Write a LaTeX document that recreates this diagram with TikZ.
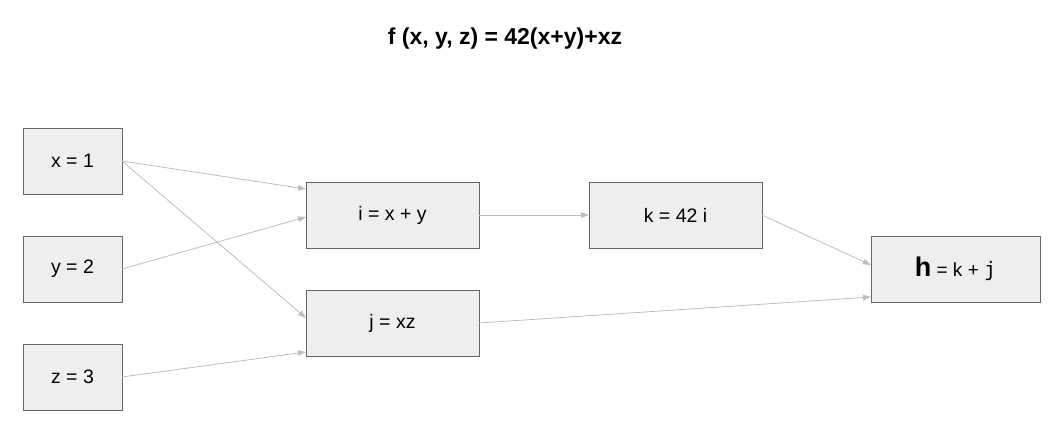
\documentclass[tikz,border=0pt]{standalone}
\usepackage{fontspec}
\setmainfont{Liberation Sans}
\newfontfamily\monofnt{DejaVu Sans Mono}
\usetikzlibrary{arrows.meta}
\definecolor{boxfill}{HTML}{EEEEEE}
\definecolor{boxline}{HTML}{666666}
\definecolor{wire}{HTML}{BDBDBD}
\tikzset{
  valbox/.style={draw=boxline, fill=boxfill, line width=0.9pt, minimum width=99pt, minimum height=66pt, inner sep=0pt, outer sep=0pt, font=\fontsize{19.5}{22}\selectfont},
  opbox/.style={valbox, minimum width=173pt},
  hbox/.style={valbox, minimum width=169pt},
  wirearrow/.style={draw=wire, line width=0.8pt, -{Triangle[length=8pt,width=5.5pt]}}
}
\begin{document}
\begin{tikzpicture}[x=1pt,y=-1pt]
\useasboundingbox (0,0) rectangle (1058,430);
\node[font=\bfseries\fontsize{23}{26}\selectfont] (title) at (505,39) {f (x, y, z) = 42(x+y)+xz};
\node[valbox] (xn) at (72.5,161) {x = 1};
\node[valbox] (yn) at (72.5,269) {y = 2};
\node[valbox] (zn) at (72.5,377) {z = 3};
\node[opbox] (in) at (392.5,215) {i = x + y};
\node[opbox] (jn) at (392.5,323) {j = xz};
\node[opbox] (kn) at (675.5,215) {k = 42 i};
\node[hbox] (hn) at (955.5,269) {{\bfseries\fontsize{27}{29}\selectfont h}{\fontsize{19}{21}\selectfont\ = k + {\monofnt\fontsize{20}{22}\selectfont j}}};
\draw[wirearrow] (xn.east) -- ([yshift=26pt]in.west);
\draw[wirearrow] (yn.east) -- ([yshift=-2pt]in.west);
\draw[wirearrow] (xn.east) -- ([yshift=5pt]jn.west);
\draw[wirearrow] (zn.east) -- ([yshift=-29pt]jn.west);
\draw[wirearrow] (in.east) -- (kn.west);
\draw[wirearrow] (kn.east) -- ([yshift=4pt]hn.west);
\draw[wirearrow] (jn.east) -- ([yshift=-28pt]hn.west);
\end{tikzpicture}
\end{document}
